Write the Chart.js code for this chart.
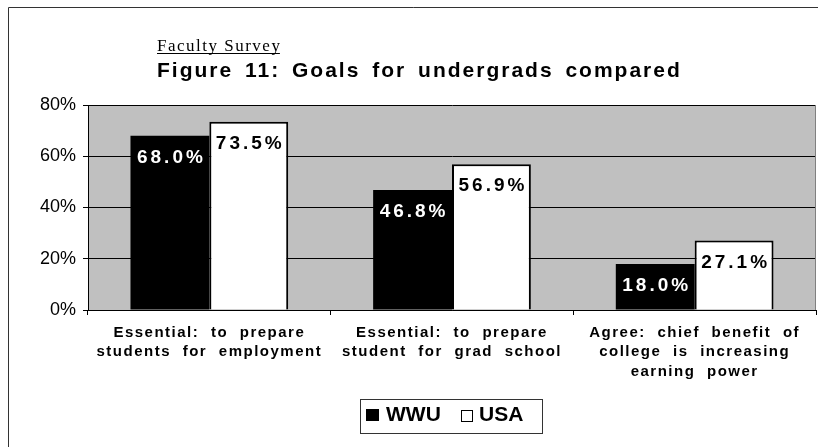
<!DOCTYPE html>
<html>
<head>
<meta charset="utf-8">
<script src="https://cdn.jsdelivr.net/npm/chart.js@4"></script>
<style>
html, body { margin: 0; padding: 0; background: #fff; }
#wrap { width: 827px; height: 447px; }
</style>
</head>
<body>
<div id="wrap"><canvas id="chart" width="827" height="447"></canvas></div>
<script>
// Chart data
const categories = [
  ['Essential: to prepare', 'students for employment'],
  ['Essential: to prepare', 'student for grad school'],
  ['Agree: chief benefit of', 'college is increasing', 'earning power']
];
const seriesNames = ['WWU', 'USA'];
const wwuValues = [68.0, 46.8, 18.0];
const usaValues = [73.5, 56.9, 27.1];
const yTicks = [0, 20, 40, 60, 80];

const SANS = "'Liberation Sans', Arial, sans-serif";
const SERIF = "'Liberation Serif', 'Times New Roman', serif";

// Background, titles, data labels, legend box
const decorPlugin = {
  id: 'decor',
  beforeDraw(chart) {
    const { ctx, chartArea: a } = chart;
    ctx.save();
    ctx.fillStyle = '#fff';
    ctx.fillRect(0, 0, chart.width, chart.height);
    ctx.fillStyle = '#c0c0c0';
    ctx.fillRect(a.left, a.top, a.right - a.left, a.bottom - a.top);
    ctx.restore();
    // spacing for the category labels (y tick labels are drawn later, z: 1)
    ctx.letterSpacing = '1.5px';
    ctx.wordSpacing = '6px';
  },
  beforeDatasetsDraw(chart) {
    chart.ctx.letterSpacing = '0px';
    chart.ctx.wordSpacing = '0px';
  },
  afterDatasetsDraw(chart) {
    const ctx = chart.ctx;
    ctx.save();
    ctx.font = 'bold 19px ' + SANS;
    ctx.letterSpacing = '3px';
    ctx.textAlign = 'center';
    ctx.textBaseline = 'alphabetic';
    chart.data.datasets.forEach((ds, i) => {
      const meta = chart.getDatasetMeta(i);
      meta.data.forEach((bar, j) => {
        ctx.fillStyle = i === 0 ? '#fff' : '#000';
        ctx.fillText(ds.data[j].toFixed(1) + '%', bar.x + 1.5, bar.y + 27);
      });
    });
    ctx.restore();
  },
  afterDraw(chart) {
    const { ctx, chartArea: a } = chart;
    ctx.save();
    ctx.letterSpacing = '0px';
    ctx.wordSpacing = '0px';

    // right edge of plot
    ctx.strokeStyle = '#808080';
    ctx.lineWidth = 1;
    ctx.beginPath();
    ctx.moveTo(a.right - 0.5, a.top);
    ctx.lineTo(a.right - 0.5, a.bottom);
    ctx.stroke();

    // outer frame
    ctx.strokeStyle = '#333';
    ctx.beginPath();
    ctx.moveTo(8.5, chart.height);
    ctx.lineTo(8.5, 7.5);
    ctx.lineTo(818, 7.5);
    ctx.stroke();

    // subtitle
    ctx.fillStyle = '#000';
    ctx.textAlign = 'left';
    ctx.textBaseline = 'alphabetic';
    ctx.font = '17px ' + SERIF;
    ctx.letterSpacing = '1.5px';
    const sub = 'Faculty Survey';
    ctx.fillText(sub, 157, 51);
    const subW = ctx.measureText(sub).width - 1.5;
    ctx.fillRect(157, 53, subW, 1);

    // title
    ctx.font = 'bold 21px ' + SANS;
    ctx.letterSpacing = '2px';
    ctx.wordSpacing = '4px';
    ctx.fillText('Figure 11: Goals for undergrads compared', 157, 77);
    ctx.letterSpacing = '0px';
    ctx.wordSpacing = '0px';

    // legend box
    ctx.strokeStyle = '#333';
    ctx.strokeRect(360.5, 399.5, 182, 34);
    const ds = chart.data.datasets;
    ctx.font = 'bold 21px ' + SANS;
    ctx.fillStyle = ds[0].backgroundColor;
    ctx.fillRect(366, 409, 13, 12);
    ctx.fillStyle = '#000';
    ctx.fillText(ds[0].label, 386, 421);
    ctx.fillStyle = ds[1].backgroundColor;
    ctx.fillRect(461, 410, 11, 11);
    ctx.strokeStyle = ds[1].borderColor;
    ctx.strokeRect(461.5, 410.5, 11, 11);
    ctx.fillStyle = '#000';
    ctx.fillText(ds[1].label, 479, 421);
    ctx.restore();
  }
};

new Chart(document.getElementById('chart'), {
  type: 'bar',
  data: {
    labels: categories,
    datasets: [
      { label: seriesNames[0], data: wwuValues, backgroundColor: '#000', borderWidth: 0,
        categoryPercentage: 0.65, barPercentage: 1 },
      { label: seriesNames[1], data: usaValues, backgroundColor: '#fff', borderColor: '#000', borderWidth: 2,
        categoryPercentage: 0.65, barPercentage: 1 }
    ]
  },
  options: {
    responsive: false,
    animation: false,
    devicePixelRatio: 1,
    layout: { padding: { top: 105, right: 11, left: 0, bottom: 0 } },
    plugins: {
      legend: { display: false },
      title: { display: false },
      tooltip: { enabled: false }
    },
    scales: {
      x: {
        grid: { display: true, drawOnChartArea: false, drawTicks: true, tickLength: 5, color: '#000', offset: true },
        border: { display: true, color: '#000', width: 1 },
        ticks: { color: '#000', font: { family: SANS, size: 15, weight: 'bold', lineHeight: 1.3 },
                 padding: 8, maxRotation: 0, autoSkip: false },
        afterFit: s => { s.height = 137; }
      },
      y: {
        min: 0,
        max: 80,
        afterBuildTicks: s => { s.ticks = yTicks.map(v => ({ value: v })); },
        grid: { color: '#000', tickLength: 5, drawTicks: true },
        border: { display: true, color: '#000', width: 1 },
        ticks: { color: '#000', font: { family: SANS, size: 18 }, padding: 7, z: 1,
                 callback: v => v + '%' },
        afterFit: s => { s.width = 88; }
      }
    }
  },
  plugins: [decorPlugin]
});
</script>
</body>
</html>
